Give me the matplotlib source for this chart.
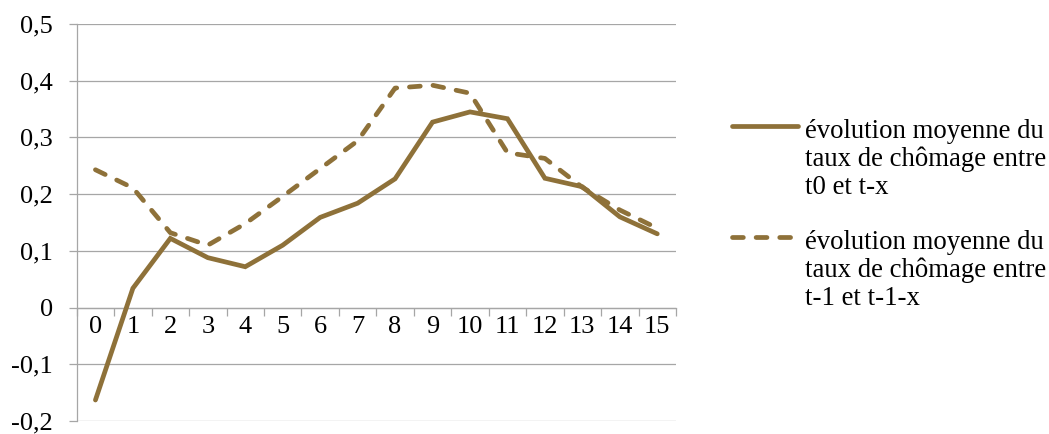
import matplotlib
matplotlib.use("Agg")
from matplotlib import pyplot as plt
from matplotlib.lines import Line2D
from matplotlib.ticker import FixedLocator, FuncFormatter
import numpy as np

plt.rcParams['font.family'] = ['Liberation Serif', 'DejaVu Serif']

# data
categories = [str(i) for i in range(16)]
evol_t0 = [-0.163, 0.034, 0.122, 0.088, 0.072, 0.110, 0.159, 0.184,
           0.227, 0.327, 0.345, 0.333, 0.228, 0.213, 0.160, 0.130]
evol_t1 = [0.243, 0.211, 0.132, 0.110, 0.148, 0.196, 0.245, 0.294,
           0.387, 0.392, 0.378, 0.273, 0.263, 0.212, 0.172, 0.140]
label_t0 = "évolution moyenne du\ntaux de chômage entre\nt0 et t-x"
label_t1 = "évolution moyenne du\ntaux de chômage entre\nt-1 et t-1-x"
yticks = [-0.2, -0.1, 0, 0.1, 0.2, 0.3, 0.4, 0.5]

color = '#8E7139'
grid_c = '#A6A6A6'
fs = 19
fs_leg = 19.3
lw = 3.4
dash = (2.3, 2.7)

W, H = 1049, 434
fig = plt.figure(figsize=(W / 100, H / 100), dpi=100)
ax = fig.add_axes([76.7 / W, (H - 421) / H, 599.3 / W, 397 / H])

x = np.arange(len(categories))
ax.plot(x, evol_t0, color=color, lw=lw, solid_capstyle='round',
        solid_joinstyle='miter', zorder=4)
ax.plot(x, evol_t1, color=color, lw=lw, dashes=dash,
        dash_capstyle='round', zorder=3)

ax.set_xlim(-0.5, len(categories) - 0.5)
ax.set_ylim(-0.2, 0.5)

# y axis
ax.yaxis.set_major_locator(FixedLocator(yticks))
ax.yaxis.set_major_formatter(FuncFormatter(
    lambda v, p: "0" if abs(v) < 1e-9 else f"{v:.1f}".replace('.', ',')))
ax.grid(axis='y', color=grid_c, lw=0.9, zorder=0)
ax.tick_params(axis='y', direction='out', length=6, width=0.9,
               color=grid_c, pad=11, labelsize=fs)

# x axis on the zero line
for s in ['top', 'right']:
    ax.spines[s].set_visible(False)
ax.spines['left'].set_color(grid_c)
ax.spines['left'].set_linewidth(0.9)
ax.spines['bottom'].set_position(('data', 0))
ax.spines['bottom'].set_color(grid_c)
ax.spines['bottom'].set_linewidth(0.9)
ax.set_xticks(x)
ax.set_xticklabels(categories)
ax.set_xticks(np.arange(len(categories) + 1) - 0.5, minor=True)
ax.tick_params(axis='x', which='major', length=0, pad=6, labelsize=fs)
ax.tick_params(axis='x', which='minor', direction='out', length=5.5,
               width=0.9, color=grid_c)

# legend drawn by hand
def px(xp, yp):
    return xp / W, 1 - yp / H

for y0, lab, dashed in [(126, label_t0, False), (237, label_t1, True)]:
    x1, y1 = px(732, y0)
    x2, _ = px(798, y0)
    ln = Line2D([x1, x2], [y1, y1], color=color, lw=lw,
                transform=fig.transFigure, solid_capstyle='round',
                dash_capstyle='round')
    if dashed:
        ln.set_dashes(dash)
    fig.add_artist(ln)
    tx, ty = px(805, y0 - 7)
    fig.text(tx, ty, lab, fontsize=fs_leg, va='top', ha='left',
             linespacing=1.14)

fig.savefig('out.png', dpi=100)
